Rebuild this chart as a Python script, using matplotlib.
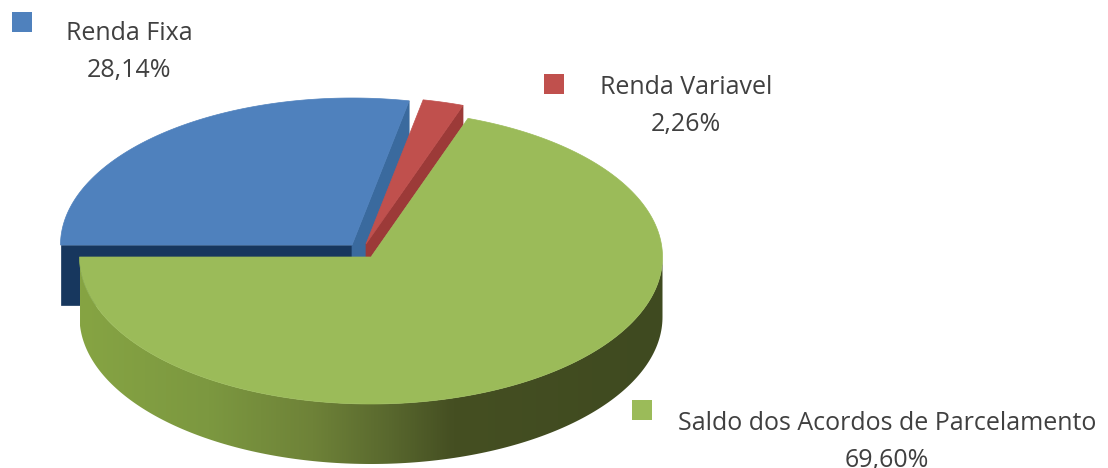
import matplotlib
matplotlib.use("Agg")
import matplotlib.pyplot as plt
import numpy as np
from matplotlib.colors import LinearSegmentedColormap
from matplotlib.patches import Polygon, Rectangle

# Chart data
categories = ["Renda Fixa", "Renda Variavel", "Saldo dos Acordos de Parcelamento"]
shares = [28.14, 2.26, 69.60]

# Pie geometry in image pixels
rx, ry = 291.5, 147
depth = 60
centers = [(352, 245), (366, 244), (371, 257)]  # each slice is pulled out a bit
top_colors = ["#4F81BD", "#C0504D", "#9BBB59"]
edge_colors = ["#3A6A9E", "#9C3A38", "#4A5A26"]

# Legend squares and label centres
square_pos = [(12, 12), (544, 74), (632, 400)]
label_pos = [(129.5, 52), (686, 106), (887, 442)]


def rim(cx, cy, a1, a2, n=200):
    t = np.radians(np.linspace(a1, a2, n))
    return np.column_stack([cx + rx * np.cos(t), cy - ry * np.sin(t)])


fig = plt.figure(figsize=(11.08, 4.68), dpi=100)
ax = fig.add_axes([0, 0, 1, 1])

# Slice angles, clockwise, first slice begins at the left of the pie
angles = [180.0]
for s in shares:
    angles.append(angles[-1] - s * 3.6)


def add_poly(pts, color, z):
    p = Polygon(pts, closed=True, facecolor=color, edgecolor=color, linewidth=0.5, zorder=z)
    ax.add_patch(p)
    return p


# Blue slice
cx, cy = centers[0]
a1, a2 = angles[0], angles[1]
end = rim(cx, cy, a2, a2, 1)[0]
start = rim(cx, cy, a1, a1, 1)[0]
add_poly([(cx, cy), start, start + (0, depth), (cx, cy + depth)], "#17375E", 1)
add_poly([(cx, cy), end, end + (0, depth), (cx, cy + depth)], edge_colors[0], 1)
add_poly(np.vstack([[(cx, cy)], rim(cx, cy, a1, a2)]), top_colors[0], 2)

# Red slice
cx, cy = centers[1]
a1, a2 = angles[1], angles[2]
end = rim(cx, cy, a2, a2, 1)[0]
add_poly([(cx, cy), end, end + (0, 20), (cx, cy + 20)], edge_colors[1], 3)
add_poly(np.vstack([[(cx, cy)], rim(cx, cy, a1, a2)]), top_colors[1], 4)

# Green slice: outer wall with a horizontal gradient, then the top face
cx, cy = centers[2]
a1, a2 = angles[2], angles[3]
front = rim(cx, cy, 180, 360)
wall = Polygon(np.vstack([front, (front + (0, depth))[::-1]]), closed=True,
               transform=ax.transData, facecolor="none", edgecolor="none")
ax.add_patch(wall)
wall_cmap = LinearSegmentedColormap.from_list(
    "wall", [(0, "#86A443"), (0.22, "#7C9840"), (0.4, "#6E8238"),
             (0.53, "#59682E"), (0.64, "#454F22"), (1, "#3F4A20")])
grad = np.linspace(0, 1, 256).reshape(1, -1)
im = ax.imshow(grad, cmap=wall_cmap, extent=[cx - rx, cx + rx, cy + ry + depth, cy],
               aspect="auto", zorder=5)
im.set_clip_path(wall)
add_poly(np.vstack([[(cx, cy)], rim(cx, cy, a1, a2)]), top_colors[2], 6)

# Legend squares and labels
for name, share, sq, lab, col in zip(categories, shares, square_pos, label_pos, top_colors):
    ax.add_patch(Rectangle(sq, 20, 20, facecolor=col, edgecolor="none", zorder=7))
    value = f"{share:.2f}%".replace(".", ",")
    ax.text(lab[0], lab[1], name + "\n" + value, ha="center", va="center",
            fontsize=18, family="Open Sans", color="#404040", linespacing=1.6, zorder=8)

ax.set_xlim(0, 1108)
ax.set_ylim(468, 0)
ax.axis("off")

fig.savefig("out.png", dpi=100)
